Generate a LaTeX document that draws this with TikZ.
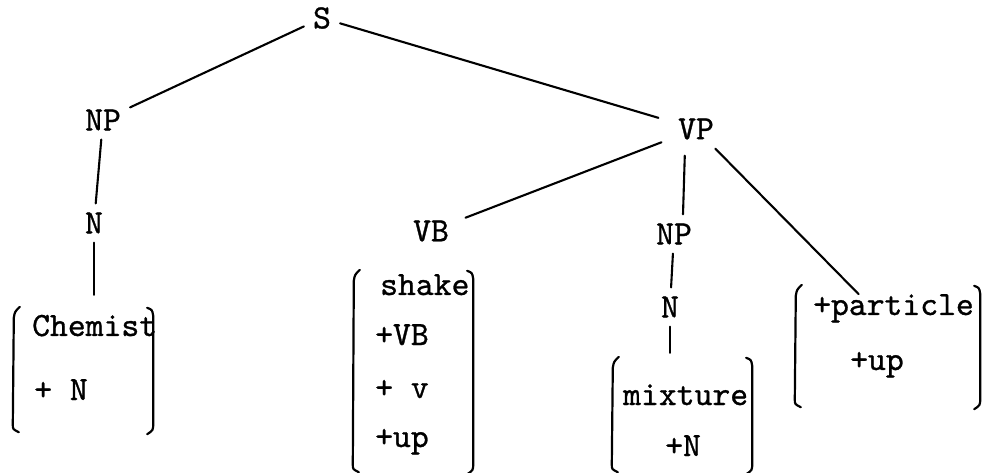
\documentclass[tikz,border=0pt]{standalone}
\usepackage{fontspec}
\newfontfamily\typew{lmmono10-regular.otf}[FakeBold=0.9]
\usetikzlibrary{calc}
\tikzset{
  lab/.style={font=\fontsize{34}{34}\selectfont\typew, inner sep=9pt},
  fmtext/.style={font=\fontsize{34}{34}\selectfont\typew, inner sep=0pt, anchor=base west},
  fmbox/.style={inner sep=0pt, draw=none},
  edge/.style={line width=2.1pt, line cap=round},
  brk/.style={line width=2.2pt, line join=round, line cap=round},
}
\newcommand\fmbr[1]{%
  \draw[brk] ($(#1.north west)+(7,-3)$) .. controls ($(#1.north west)+(2,2)$) .. ($(#1.north west)+(1,8)$) -- ($(#1.south west)+(0,-6)$) .. controls ($(#1.south west)+(0,-1)$) .. ($(#1.south west)+(6,2)$);
  \draw[brk] ($(#1.north east)+(-6,-2)$) .. controls ($(#1.north east)+(-1,0)$) .. ($(#1.north east)+(0,6)$) -- ($(#1.south east)+(0,-7)$) .. controls ($(#1.south east)+(0,0)$) .. ($(#1.south east)+(-6,4)$);
}
\begin{document}
\begin{tikzpicture}[x=1pt,y=-1pt]
\useasboundingbox (0,0) rectangle (989,473);
% category labels
\node[lab] (S) at (322,18) {S};
\node[lab] (NPa) at (103,120) {NP};
\node[lab] (Na) at (94,223) {N};
\node[lab] (VP) at (696,129) {VP};
\node[lab] (VB) at (431,231) {VB};
\node[lab] (NPb) at (674,234) {NP};
\node[lab] (Nb) at (670,307) {N};
% feature matrices
\node[fmbox, minimum width=140pt, minimum height=120pt] (chem) at (83,370) {};
\node[fmbox, minimum width=120pt, minimum height=197pt] (shake) at (413,371.5) {};
\node[fmbox, minimum width=140pt, minimum height=110pt] (mix) at (682,415) {};
\node[fmbox, minimum width=185pt, minimum height=117pt] (part) at (887.5,346.5) {};
\node[fmtext] (chemA) at (32,336) {Chemist};
\node[fmtext] (chemB) at (34,400) {+ N};
\node[fmtext] (shA) at (380,295) {shake};
\node[fmtext] (shB) at (375,345) {+VB};
\node[fmtext] (shC) at (375,398) {+ v};
\node[fmtext] (shD) at (375,447) {+up};
\node[fmtext] (mixA) at (623,405) {mixture};
\node[fmtext] (mixB) at (665,456) {+N};
\node[fmtext] (partA) at (813,315) {+particle};
\node[fmtext] (partB) at (850,370) {+up};
\fmbr{chem}
\fmbr{shake}
\fmbr{mix}
\fmbr{part}
% connectors
\draw[edge] (S) -- (NPa);
\draw[edge, shorten >=11pt] (S) -- (VP);
\draw[edge] (NPa) -- (Na);
\draw[edge, shorten >=15pt] (Na) -- (chem.north -| Na);
\draw[edge, shorten <=8pt, shorten >=8pt] (VP) -- (VB);
\draw[edge, shorten <=7pt] ([xshift=-11pt]VP.south) -- ([xshift=9pt]NPb.north);
\draw[edge] (VP) -- ([xshift=-35pt]partA.north);
\draw[edge] (NPb) -- (Nb);
\draw[edge, shorten >=7pt] (Nb) -- (mix.north -| Nb);
\end{tikzpicture}
\end{document}
